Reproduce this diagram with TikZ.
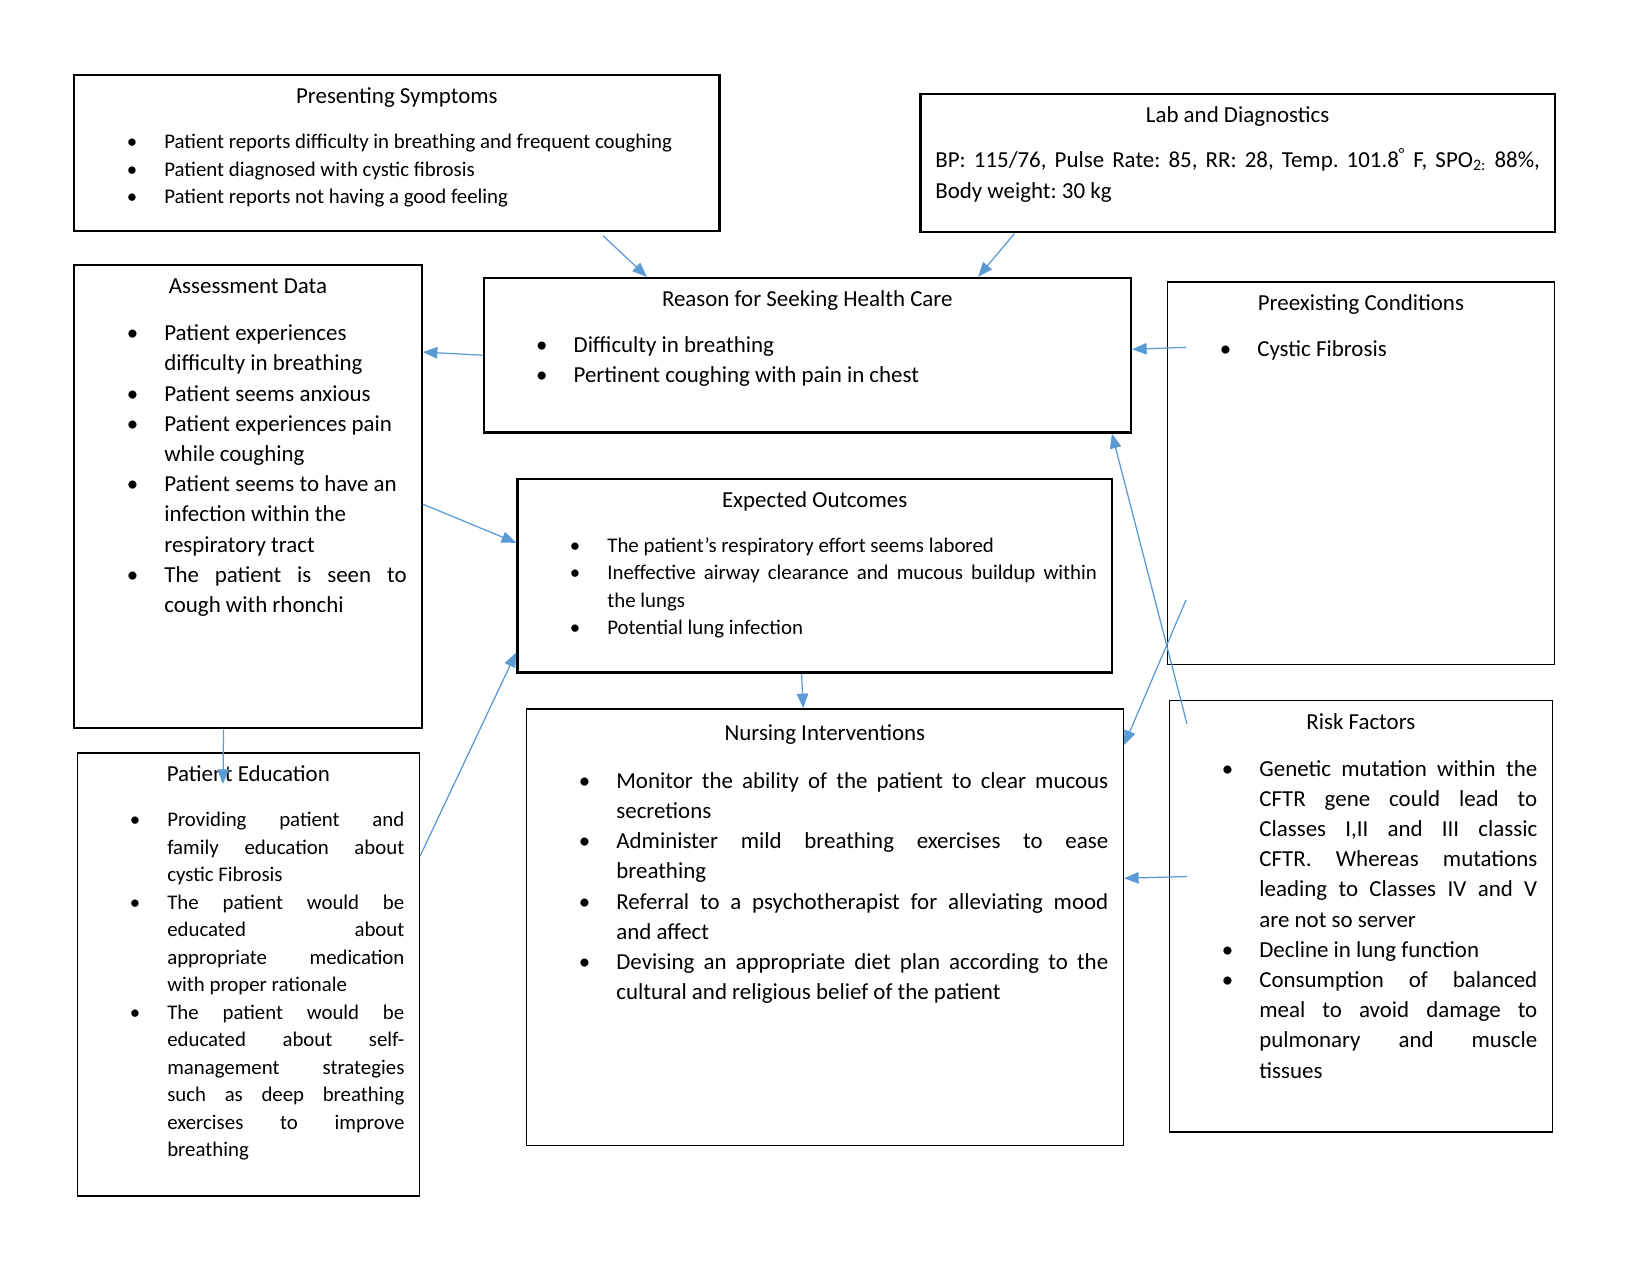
\documentclass[tikz,border=0pt]{standalone}
\usepackage{fontspec}
\setmainfont{Carlito}
\usepackage{tikz}
\usetikzlibrary{arrows.meta, positioning, calc}
\definecolor{linkBlue}{HTML}{5B9BD5}

\hyphenpenalty=10000
\tolerance=9999
\emergencystretch=2em
\frenchspacing

\newcommand{\boxtitle}[1]{{\fontsize{11}{14.5}\selectfont\centering\rule{0pt}{13.7pt}#1\par}}
\newenvironment{bullets}[1]{%
  \vspace{#1}%
  \begin{list}{\textbullet}{%
    \setlength{\leftmargin}{43.2pt}\setlength{\rightmargin}{7.2pt}%
    \setlength{\labelwidth}{18pt}\setlength{\labelsep}{0pt}%
    \setlength{\itemsep}{0pt}\setlength{\parsep}{0pt}%
    \setlength{\topsep}{0pt}\setlength{\partopsep}{0pt}%
    \setlength{\itemindent}{0pt}%
    \renewcommand{\makelabel}[1]{##1\hfil}}}
  {\end{list}}

\begin{document}
\begin{tikzpicture}[
    x=0.48pt, y=-0.48pt,
    panel/.style={draw, line width=1.1pt, anchor=north west, inner sep=0pt,
        font=\fontsize{11}{14.5}\selectfont},
    thinpanel/.style={panel, line width=0.75pt},
    small/.style={font=\fontsize{10}{13.2}\selectfont},
    link/.style={draw=linkBlue, line width=0.6pt, -{Triangle[length=7pt, width=5.5pt]}}
]
    \useasboundingbox (0,0) rectangle (1650,1275);

    \node[panel, small] (ps) at (73.2,74.2) {\begin{minipage}[t][74.8pt][t]{309.6pt}
        \boxtitle{Presenting Symptoms}
        \begin{bullets}{8.4pt}
        \item Patient reports difficulty in breathing and frequent coughing
        \item Patient diagnosed with cystic fibrosis
        \item Patient reports not having a good feeling
        \end{bullets}
    \end{minipage}};

    \node[panel] (lab) at (919.2,92.6) {\begin{minipage}[t][66.2pt][t]{304.6pt}
        \boxtitle{Lab and Diagnostics}
        \vspace{6.6pt}
        {\fontsize{11}{15.1}\selectfont\leftskip=7.2pt \rightskip=7.2pt
        BP: 115/76, Pulse Rate: 85, RR: 28, Temp. 101.8\textsuperscript{°} F, SPO\textsubscript{2:} 88\%,\linebreak
        Body weight: 30 kg\par}
    \end{minipage}};

    \node[panel] (ad) at (73.2,264.1) {\begin{minipage}[t][222.2pt][t]{166.7pt}
        \boxtitle{Assessment Data}
        \begin{bullets}{8pt}
        \item Patient experiences\newline difficulty in breathing
        \item Patient seems anxious
        \item Patient experiences pain\newline while coughing
        \item Patient seems to have an\newline infection within the\newline respiratory tract
        \item The patient is seen to\linebreak cough with rhonchi
        \end{bullets}
    \end{minipage}};

    \node[panel] (rs) at (482.5,276.8) {\begin{minipage}[t][74.2pt][t]{310.7pt}
        \boxtitle{Reason for Seeking Health Care}
        \begin{bullets}{7.7pt}
        \item Difficulty in breathing
        \item Pertinent coughing with pain in chest
        \end{bullets}
    \end{minipage}};

    \node[thinpanel] (pc) at (1166.5,281) {\begin{minipage}[t][183.8pt][t]{185.9pt}
        \boxtitle{Preexisting Conditions}
        \begin{bullets}{7.8pt}
        \item Cystic Fibrosis
        \end{bullets}
    \end{minipage}};

    \node[panel, small] (eo) at (516.2,477.7) {\begin{minipage}[t][93pt][t]{285.4pt}
        \boxtitle{Expected Outcomes}
        \begin{bullets}{8.3pt}
        \item The patient’s respiratory effort seems labored
        \item Ineffective airway clearance and mucous buildup within\linebreak the lungs
        \item Potential lung infection
        \end{bullets}
    \end{minipage}};

    \node[thinpanel, small] (pe) at (76.5,752.4) {\begin{minipage}[t][212.6pt][t]{164.2pt}
        \boxtitle{Patient Education}
        \begin{bullets}{8.3pt}
        \item Providing patient and\linebreak family education about\linebreak cystic Fibrosis
        \item The patient would be\linebreak educated about\linebreak appropriate medication\linebreak with proper rationale
        \item The patient would be\linebreak educated about self-\linebreak management strategies\linebreak such as deep breathing\linebreak exercises to improve\linebreak breathing
        \end{bullets}
    \end{minipage}};

    \node[thinpanel] (ni) at (525.6,708.2) {\begin{minipage}[t][209.6pt][t]{286.5pt}
        \vspace*{1.4pt}
        \boxtitle{Nursing Interventions}
        \begin{bullets}{8.4pt}
        \item Monitor the ability of the patient to clear mucous\linebreak secretions
        \item Administer mild breathing exercises to ease\linebreak breathing
        \item Referral to a psychotherapist for alleviating mood\linebreak and affect
        \item Devising an appropriate diet plan according to the\linebreak cultural and religious belief of the patient
        \end{bullets}
    \end{minipage}};

    \node[thinpanel] (rf) at (1168.6,699.8) {\begin{minipage}[t][207.1pt][t]{183.8pt}
        \boxtitle{Risk Factors}
        \begin{bullets}{8pt}
        \item Genetic mutation within the\linebreak CFTR gene could lead to\linebreak Classes I,II and III classic\linebreak CFTR. Whereas mutations\linebreak leading to Classes IV and V\linebreak are not so server
        \item Decline in lung function
        \item Consumption of balanced\linebreak meal to avoid damage to\linebreak pulmonary and muscle\linebreak tissues
        \end{bullets}
    \end{minipage}};

    \coordinate (psOut) at (603,235.7);
    \coordinate (labOut) at (1014.4,233.6);
    \coordinate (pcIn) at (1186,347.3);
    \coordinate (pcLow) at (1186,600);
    \coordinate (peIn) at (223,784);
    \coordinate (rfIn) at (1187,724);
    \coordinate (rfMid) at (1187,876.5);

    \draw[link] (psOut) -- ($(rs.north west)!0.253!(rs.north east)$);
    \draw[link] (labOut) -- ($(rs.north west)!0.763!(rs.north east)$);
    \draw[link] (rs.west) -- ($(ad.north east)!0.189!(ad.south east)$);
    \draw[link] (pcIn) -- ($(rs.north east)!0.462!(rs.south east)$);
    \draw[link] ($(ad.north east)!0.516!(ad.south east)$) -- ($(eo.north west)!0.332!(eo.south west)$);
    \draw[link] ($(pe.north east)!0.233!(pe.south east)$) -- ($(eo.north west)!0.891!(eo.south west)$);
    \draw[link] ($(ad.south west)!0.43!(ad.south east)$) -- (peIn);
    \draw[link] ($(eo.south west)!0.478!(eo.south east)$) -- ($(ni.north west)!0.464!(ni.north east)$);
    \draw[link] (rfIn) -- ($(rs.south west)!0.969!(rs.south east)$);
    \draw[link] (pcLow) -- ($(ni.north east)!0.084!(ni.south east)$);
    \draw[link] (rfMid) -- ($(ni.north east)!0.388!(ni.south east)$);
\end{tikzpicture}
\end{document}
